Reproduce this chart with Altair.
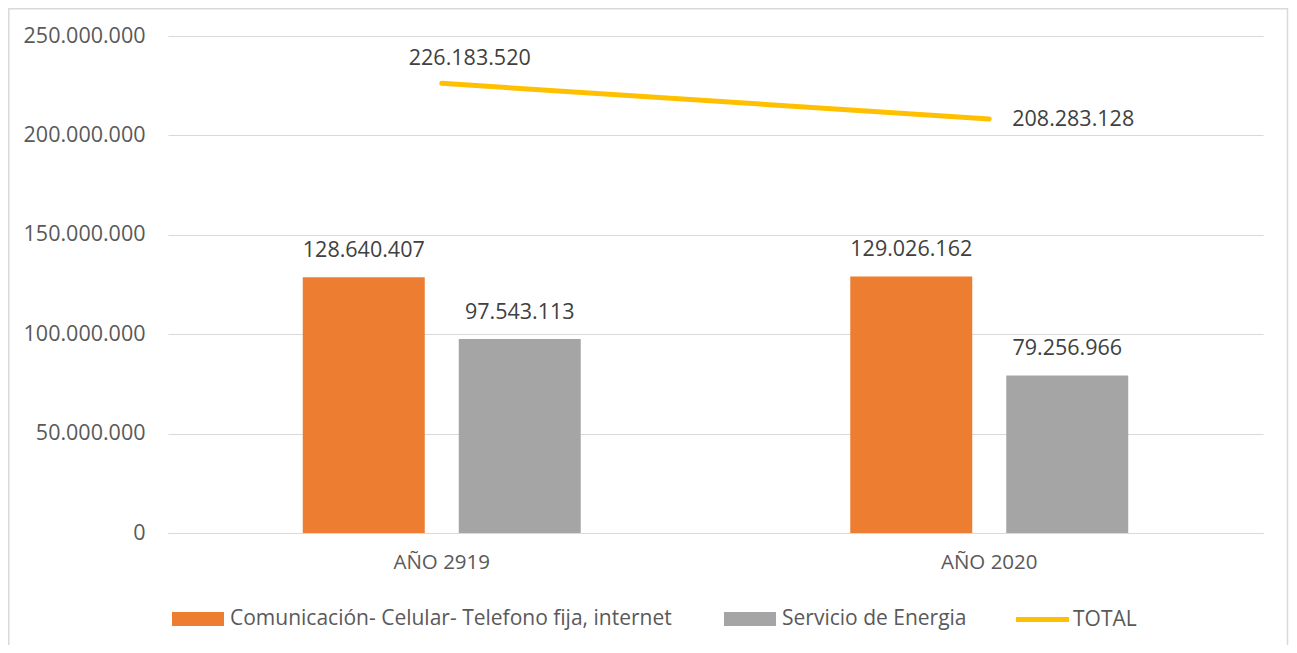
import altair as alt
import pandas as pd

categories = ["AÑO 2919", "AÑO 2020"]
series = ["Comunicación- Celular- Telefono fija, internet", "Servicio de Energia"]
comunicacion = [128640407, 129026162]
energia = [97543113, 79256966]
total_name = "TOTAL"
total = [226183520, 208283128]
y_ticks = [0, 50000000, 100000000, 150000000, 200000000, 250000000]

ORANGE = "#ED7D31"
GRAY = "#A5A5A5"
YELLOW = "#FFC000"
FONT = "Open Sans"


def fmt(v):
    return f"{v:,}".replace(",", ".")


bars_df = pd.DataFrame({
    "cat": categories * 2,
    "serie": [series[0]] * len(categories) + [series[1]] * len(categories),
    "value": comunicacion + energia,
})
bars_df["label"] = bars_df["value"].map(fmt)

line_df = pd.DataFrame({
    "cat": categories,
    "linea": [total_name] * len(categories),
    "value": total,
    "label": [fmt(v) for v in total],
})

W, H = 1095, 497

x_enc = alt.X(
    "cat:N", sort=categories,
    scale=alt.Scale(paddingInner=0, paddingOuter=0),
    axis=alt.Axis(title=None, labelAngle=0, ticks=False, domainColor="#d9d9d9",
                  domainWidth=1, labelFontSize=20.5, labelColor="#595959",
                  labelPadding=19, labelFont=FONT),
)
y_enc = alt.Y(
    "value:Q",
    scale=alt.Scale(domain=[0, 250000000], nice=False, zero=True),
    axis=alt.Axis(title=None, values=y_ticks, ticks=False, domain=False,
                  gridColor="#d9d9d9", gridWidth=1, labelFontSize=21.5,
                  labelColor="#595959", labelPadding=23, labelFont=FONT,
                  labelExpr="replace(format(datum.value, ','), /,/g, '.')"),
)
xoff = alt.XOffset("serie:N", sort=series,
                   scale=alt.Scale(paddingInner=0.218, paddingOuter=0.864))

frame = alt.Chart(pd.DataFrame({"k": [0]})).mark_rect(
    fill=None, stroke="#d9d9d9", strokeWidth=1.5
).encode(
    x=alt.value(-159.2), x2=alt.value(W + 24.5), y=alt.value(-27.2), y2=alt.value(H + 200)
)

bars = alt.Chart(bars_df).mark_bar().encode(
    x=x_enc,
    xOffset=xoff,
    y=y_enc,
    fill=alt.Fill("serie:N", sort=series,
                  scale=alt.Scale(domain=series, range=[ORANGE, GRAY]),
                  legend=alt.Legend(orient="none", legendX=4, legendY=557,
                                    direction="horizontal", title=None,
                                    symbolType="M-1,-0.27H1V0.27H-1Z",
                                    symbolSize=2704, symbolStrokeWidth=0,
                                    labelFontSize=21, labelColor="#595959",
                                    labelFont=FONT, labelOffset=6,
                                    columnPadding=52, padding=0,
                                    labelLimit=600)),
)

bar_labels = alt.Chart(bars_df).mark_text(
    baseline="middle", align="center", dy=-26, fontSize=21.5, color="#404040", font=FONT
).encode(x=alt.X("cat:N", sort=categories), xOffset=xoff, y="value:Q", text="label:N")

line = alt.Chart(line_df).mark_line(strokeWidth=5, strokeCap="round").encode(
    x=alt.X("cat:N", sort=categories),
    y="value:Q",
    stroke=alt.Stroke("linea:N",
                      scale=alt.Scale(domain=[total_name], range=[YELLOW]),
                      legend=alt.Legend(orient="none", legendX=848, legendY=557,
                                        direction="horizontal", title=None,
                                        symbolType="M-1,-0.04H1V0.04H-1Z",
                                        symbolSize=2500,
                                        symbolFillColor=YELLOW,
                                        symbolStrokeWidth=3,
                                        labelFontSize=21, labelColor="#595959",
                                        labelFont=FONT, labelOffset=4, padding=0)),
)

lab1 = alt.Chart(line_df).transform_filter(
    alt.datum.cat == categories[0]
).mark_text(baseline="middle", align="center", dx=28, dy=-24, fontSize=21.5,
            color="#404040", font=FONT).encode(
    x=alt.X("cat:N", sort=categories), y="value:Q", text="label:N")

lab2 = alt.Chart(line_df).transform_filter(
    alt.datum.cat == categories[1]
).mark_text(baseline="middle", align="left", dx=23, dy=1, fontSize=21.5,
            color="#404040", font=FONT).encode(
    x=alt.X("cat:N", sort=categories), y="value:Q", text="label:N")

chart = alt.layer(frame, bars, bar_labels, line, lab1, lab2).properties(
    width=W, height=H,
    background="white",
    autosize=alt.AutoSizeParams(type="none"),
    padding={"left": 160, "top": 28, "right": 26, "bottom": 112},
).configure_view(stroke=None)

chart.save("out.html", embed_options={"renderer": "svg", "actions": False})
